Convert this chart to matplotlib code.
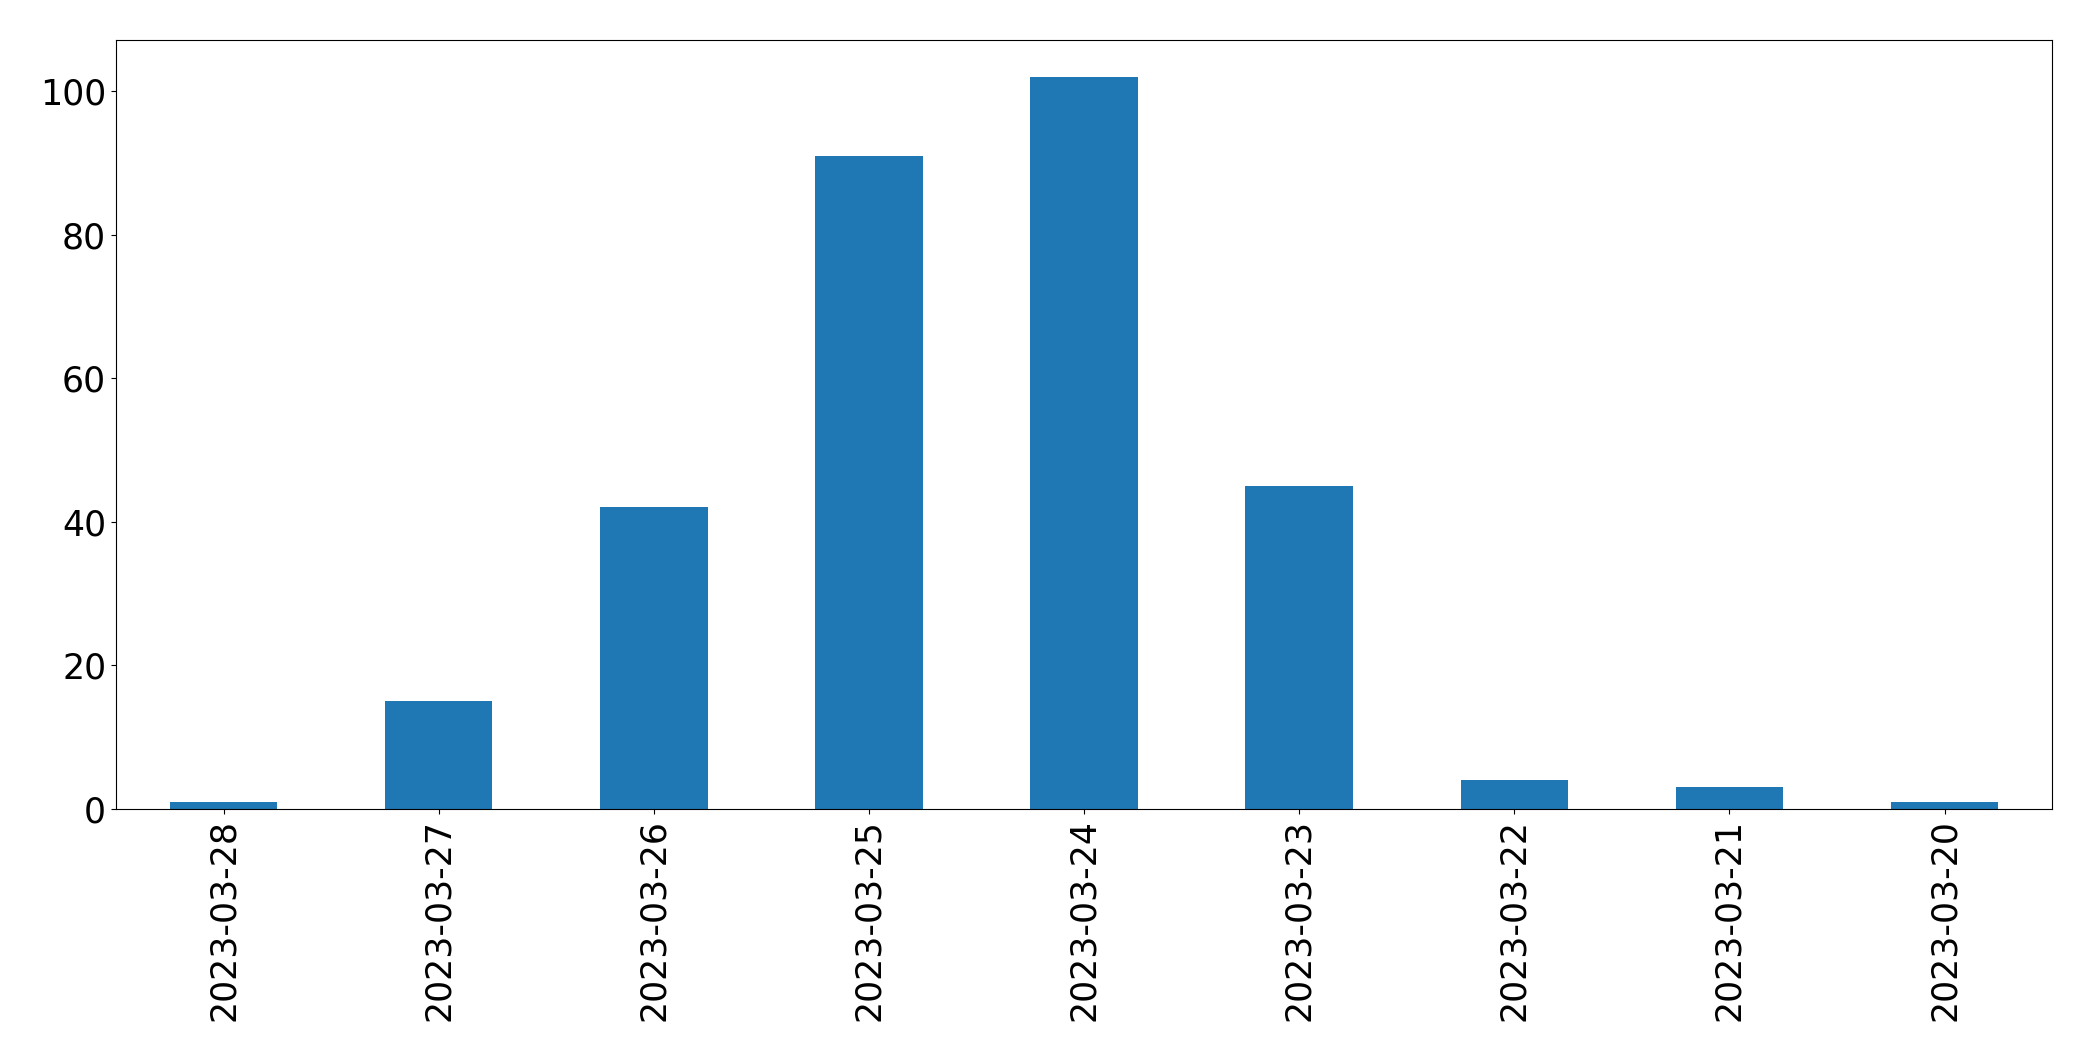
import matplotlib
matplotlib.use('Agg')
import matplotlib.pyplot as plt
import pandas as pd

#Data
dates = ['2023-03-28', '2023-03-27', '2023-03-26', '2023-03-25', '2023-03-24',
         '2023-03-23', '2023-03-22', '2023-03-21', '2023-03-20']
counts = [1, 15, 42, 91, 102, 45, 4, 3, 1]

s = pd.Series(counts, index=dates)

fig, ax = plt.subplots(figsize=(20.93, 10.61), dpi=100)
s.plot(kind='bar', ax=ax, color='#1f77b4', width=0.5)
ax.tick_params(axis='both', labelsize=25)
plt.subplots_adjust(left=0.0554, right=0.9805, top=0.9623, bottom=0.2375)

plt.savefig('out.png')
